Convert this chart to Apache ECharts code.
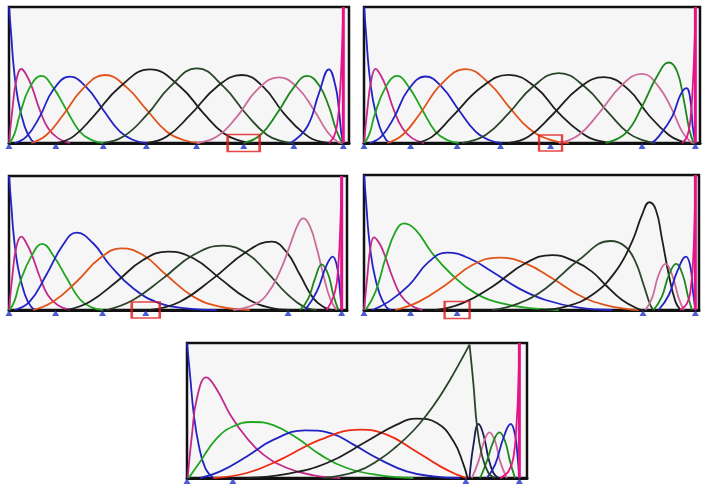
<!DOCTYPE html>
<html>
<head>
<meta charset="utf-8">
<script src="https://cdn.jsdelivr.net/npm/echarts@6/dist/echarts.min.js"></script>
<style>html,body{margin:0;padding:0;background:#fff;}#c{width:704px;height:485px;}</style>
</head>
<body>
<div id="c"></div>
<script>
// ---------- Data (x: normalised parameter 0..1, y: basis value 0..1) ----------
const P1_KNOTS = [0, 0.14, 0.282, 0.411, 0.561, 0.702, 0.852, 1];
const P1_REMOVED = [0.702];
const P1_CURVES = [
  [[0,1],[0.007,0.782],[0.014,0.561],[0.027,0.316],[0.047,0.12],[0.067,0.022],[0.082,0]],
  [[0,0],[0.01,0.243],[0.022,0.463],[0.037,0.544],[0.052,0.5],[0.069,0.409],[0.092,0.243],[0.117,0.108],[0.147,0.034],[0.182,0]],
  [[0.002,0],[0.017,0.071],[0.032,0.206],[0.062,0.409],[0.097,0.493],[0.132,0.409],[0.172,0.243],[0.212,0.083],[0.247,0.022],[0.282,0]],
  [[0.017,0],[0.052,0.047],[0.092,0.194],[0.132,0.39],[0.182,0.488],[0.232,0.409],[0.282,0.243],[0.332,0.083],[0.372,0.022],[0.412,0]],
  [[0.067,0],[0.112,0.059],[0.162,0.206],[0.222,0.402],[0.287,0.5],[0.352,0.409],[0.412,0.243],[0.472,0.083],[0.522,0.022],[0.572,0]],
  [[0.142,0],[0.192,0.047],[0.252,0.194],[0.332,0.414],[0.422,0.542],[0.512,0.414],[0.582,0.218],[0.642,0.071],[0.692,0.015],[0.732,0]],
  [[0.282,0],[0.342,0.047],[0.412,0.206],[0.482,0.414],[0.562,0.549],[0.642,0.414],[0.712,0.206],[0.772,0.059],[0.822,0.01],[0.852,0]],
  [[0.412,0],[0.472,0.047],[0.542,0.206],[0.622,0.414],[0.697,0.5],[0.762,0.409],[0.822,0.218],[0.882,0.071],[0.932,0.01],[0.972,0]],
  [[0.562,0],[0.622,0.047],[0.682,0.194],[0.742,0.39],[0.807,0.483],[0.862,0.409],[0.912,0.243],[0.952,0.083],[0.982,0.01],[0.997,0]],
  [[0.702,0],[0.752,0.059],[0.802,0.218],[0.852,0.409],[0.892,0.493],[0.927,0.426],[0.957,0.267],[0.977,0.108],[0.992,0.022],[1,0]],
  [[0.842,0],[0.892,0.12],[0.927,0.365],[0.957,0.542],[0.977,0.414],[0.987,0.243],[0.994,0.071],[1,0]],
  [[0.957,0],[0.972,0.047],[0.982,0.145],[0.99,0.365],[0.996,0.684],[1,1]]
];

const P2_KNOTS = [0, 0.1405, 0.281, 0.412, 0.563, 0.839, 1];
const P2_REMOVED = [0.563];
const P2_CURVES = [
  [[0,1],[0.007,0.78],[0.014,0.56],[0.027,0.316],[0.047,0.12],[0.067,0.022],[0.082,0]],
  [[0,0],[0.01,0.243],[0.022,0.463],[0.035,0.545],[0.05,0.5],[0.067,0.409],[0.09,0.243],[0.116,0.108],[0.146,0.034],[0.181,0]],
  [[0.002,0],[0.017,0.071],[0.032,0.206],[0.065,0.409],[0.1,0.494],[0.136,0.409],[0.176,0.243],[0.216,0.083],[0.251,0.022],[0.286,0]],
  [[0.017,0],[0.052,0.047],[0.092,0.194],[0.133,0.39],[0.186,0.489],[0.236,0.409],[0.286,0.243],[0.337,0.083],[0.377,0.022],[0.417,0]],
  [[0.07,0],[0.116,0.059],[0.166,0.206],[0.236,0.44],[0.307,0.543],[0.377,0.44],[0.437,0.268],[0.497,0.108],[0.558,0.027],[0.618,0]],
  [[0.156,0],[0.206,0.047],[0.266,0.194],[0.357,0.415],[0.437,0.501],[0.518,0.41],[0.588,0.219],[0.658,0.071],[0.709,0.015],[0.759,0]],
  [[0.296,0],[0.367,0.059],[0.437,0.219],[0.508,0.41],[0.588,0.514],[0.668,0.41],[0.739,0.219],[0.799,0.071],[0.849,0.015],[0.879,0]],
  [[0.437,0],[0.497,0.047],[0.568,0.206],[0.648,0.403],[0.724,0.484],[0.799,0.391],[0.859,0.206],[0.92,0.059],[0.96,0.01],[0.985,0]],
  [[0.588,0],[0.648,0.059],[0.709,0.219],[0.779,0.428],[0.839,0.509],[0.889,0.415],[0.93,0.243],[0.96,0.084],[0.985,0.01],[0.998,0]],
  [[0.729,0],[0.789,0.071],[0.839,0.268],[0.884,0.489],[0.92,0.592],[0.945,0.526],[0.965,0.317],[0.982,0.096],[0.995,0]],
  [[0.869,0],[0.889,0.047],[0.93,0.194],[0.955,0.354],[0.973,0.403],[0.985,0.317],[0.992,0.12],[1,0]],
  [[0.96,0],[0.975,0.047],[0.985,0.17],[0.992,0.415],[0.998,0.759],[1,1]]
];

const P3_KNOTS = [0, 0.14, 0.281, 0.411, 0.839, 1];
const P3_REMOVED = [0.411];
const P3_CURVES = [
  [[0,1],[0.007,0.78],[0.014,0.56],[0.027,0.316],[0.047,0.12],[0.067,0.022],[0.082,0]],
  [[0,0],[0.01,0.25],[0.022,0.47],[0.037,0.547],[0.052,0.5],[0.069,0.41],[0.092,0.25],[0.117,0.11],[0.147,0.035],[0.183,0]],
  [[0.002,0],[0.017,0.07],[0.032,0.2],[0.067,0.4],[0.1,0.493],[0.135,0.4],[0.173,0.24],[0.213,0.08],[0.248,0.02],[0.283,0]],
  [[0.017,0],[0.062,0.062],[0.112,0.261],[0.162,0.485],[0.203,0.577],[0.253,0.498],[0.303,0.336],[0.373,0.162],[0.453,0.05],[0.534,0.012],[0.624,0]],
  [[0.072,0],[0.132,0.062],[0.203,0.211],[0.273,0.386],[0.338,0.46],[0.403,0.41],[0.473,0.261],[0.554,0.1],[0.634,0.025],[0.724,0]],
  [[0.173,0],[0.243,0.062],[0.323,0.211],[0.403,0.373],[0.478,0.435],[0.554,0.386],[0.634,0.236],[0.714,0.087],[0.784,0.017],[0.845,0]],
  [[0.293,0],[0.373,0.075],[0.463,0.236],[0.554,0.41],[0.644,0.48],[0.714,0.423],[0.774,0.286],[0.834,0.124],[0.885,0.025],[0.925,0]],
  [[0.423,0],[0.514,0.062],[0.614,0.236],[0.714,0.435],[0.79,0.51],[0.835,0.43],[0.875,0.261],[0.915,0.087],[0.95,0.017],[0.97,0]],
  [[0.674,0],[0.734,0.037],[0.774,0.112],[0.814,0.286],[0.845,0.485],[0.87,0.647],[0.885,0.684],[0.905,0.622],[0.925,0.46],[0.945,0.261],[0.965,0.087],[0.985,0]],
  [[0.875,0],[0.9,0.087],[0.92,0.236],[0.94,0.341],[0.96,0.261],[0.975,0.112],[0.99,0]],
  [[0.89,0],[0.925,0.137],[0.955,0.336],[0.973,0.398],[0.987,0.311],[0.995,0.137],[1,0]],
  [[0.955,0],[0.98,0.137],[0.99,0.336],[0.997,0.709],[1,1]]
];

const P4_KNOTS = [0, 0.1405, 0.281, 0.842, 1];
const P4_REMOVED = [0.281];
const P4_CURVES = [
  [[0,1],[0.007,0.78],[0.014,0.56],[0.027,0.316],[0.047,0.12],[0.067,0.022],[0.082,0]],
  [[0,0],[0.01,0.25],[0.02,0.47],[0.03,0.538],[0.045,0.5],[0.062,0.41],[0.085,0.25],[0.111,0.11],[0.141,0.035],[0.176,0]],
  [[0.005,0],[0.035,0.136],[0.065,0.383],[0.095,0.58],[0.121,0.642],[0.156,0.593],[0.206,0.42],[0.266,0.259],[0.337,0.123],[0.417,0.049],[0.508,0.012],[0.588,0]],
  [[0.025,0],[0.075,0.062],[0.136,0.185],[0.196,0.358],[0.251,0.425],[0.317,0.383],[0.387,0.284],[0.467,0.16],[0.548,0.074],[0.648,0.017],[0.749,0]],
  [[0.095,0],[0.166,0.062],[0.246,0.185],[0.327,0.333],[0.407,0.388],[0.487,0.346],[0.568,0.235],[0.648,0.111],[0.729,0.037],[0.829,0]],
  [[0.216,0],[0.296,0.049],[0.387,0.173],[0.487,0.346],[0.568,0.407],[0.638,0.358],[0.688,0.284],[0.729,0.185],[0.779,0.074],[0.829,0.007],[0.844,0]],
  [[0.387,0],[0.467,0.049],[0.548,0.16],[0.648,0.37],[0.744,0.511],[0.789,0.469],[0.819,0.358],[0.844,0.185],[0.864,0.037],[0.874,0]],
  [[0.528,0],[0.608,0.025],[0.688,0.111],[0.759,0.284],[0.809,0.506],[0.839,0.704],[0.861,0.798],[0.881,0.741],[0.899,0.531],[0.92,0.259],[0.94,0.062],[0.955,0]],
  [[0.849,0],[0.869,0.086],[0.889,0.259],[0.91,0.341],[0.93,0.259],[0.95,0.086],[0.965,0]],
  [[0.874,0],[0.899,0.099],[0.92,0.259],[0.942,0.341],[0.962,0.259],[0.978,0.099],[0.99,0]],
  [[0.889,0],[0.92,0.111],[0.945,0.284],[0.972,0.395],[0.985,0.321],[0.993,0.136],[1,0]],
  [[0.955,0],[0.975,0.049],[0.985,0.136],[0.993,0.358],[0.998,0.704],[1,1]]
];

const P5_KNOTS = [0, 0.138, 0.839, 1];
const P5_REMOVED = [];
const P5_CURVES = [
  [[0,1],[0.01,0.741],[0.02,0.481],[0.035,0.247],[0.055,0.074],[0.08,0]],
  [[0.002,0],[0.015,0.321],[0.03,0.593],[0.058,0.746],[0.09,0.654],[0.13,0.469],[0.18,0.296],[0.23,0.173],[0.301,0.074],[0.381,0.02],[0.461,0]],
  [[0.005,0],[0.04,0.123],[0.09,0.296],[0.14,0.383],[0.195,0.415],[0.261,0.39],[0.331,0.296],[0.401,0.173],[0.481,0.074],[0.581,0.02],[0.681,0]],
  [[0.04,0],[0.1,0.049],[0.18,0.16],[0.261,0.284],[0.356,0.353],[0.431,0.333],[0.501,0.247],[0.581,0.136],[0.661,0.049],[0.741,0.012],[0.822,0]],
  [[0.08,0],[0.18,0.037],[0.281,0.136],[0.401,0.284],[0.521,0.358],[0.601,0.321],[0.681,0.21],[0.762,0.086],[0.812,0.025],[0.842,0]],
  [[0.18,0],[0.301,0.03],[0.421,0.111],[0.541,0.272],[0.631,0.395],[0.691,0.44],[0.752,0.407],[0.802,0.272],[0.832,0.099],[0.844,0]],
  [[0.411,0],[0.511,0.049],[0.581,0.14],[0.631,0.235],[0.681,0.35],[0.722,0.47],[0.762,0.61],[0.792,0.73],[0.822,0.86],[0.85,0.988]],
  [[0.85,0],[0.862,0.247],[0.877,0.4],[0.892,0.321],[0.907,0.148],[0.922,0.037],[0.937,0]],
  [[0.857,0],[0.877,0.123],[0.894,0.272],[0.91,0.338],[0.927,0.272],[0.942,0.123],[0.962,0]],
  [[0.882,0],[0.902,0.123],[0.922,0.272],[0.94,0.338],[0.957,0.272],[0.972,0.123],[0.987,0]],
  [[0.902,0],[0.927,0.099],[0.952,0.296],[0.974,0.4],[0.987,0.321],[0.995,0.148],[1,0]],
  [[0.942,0],[0.967,0.049],[0.982,0.148],[0.992,0.42],[0.997,0.691],[1,1]]
];
// falling side of the cusp-shaped dark-green function in panel 5
const P5_CUSP_FALL = [[0.85,0.988],[0.862,0.691],[0.872,0.395],[0.887,0.173],[0.907,0.037],[0.927,0]];

// ---------- Styling ----------
const C = {
  blue:'#2222c4', mag:'#c22a8a', green:'#20a520', orange:'#e0541a', black:'#1e1e1e',
  dgreen:'#2b452b', pink:'#cc6c9a', green2:'#1d861d', magB:'#e6148a', red:'#ee2a10', navy:'#1a1a55'
};
const COLS_STD = [C.blue,C.mag,C.green,C.blue,C.orange,C.black,C.dgreen,C.black,C.pink,C.green2,C.blue,C.magB];
const COLS_P5  = [C.blue,C.mag,C.green,C.blue,C.red,C.black,C.dgreen,C.navy,C.pink,C.green2,C.blue,C.magB];

const panels = [
  {grid:{left:9, top:7, width:340, height:136}, xmax:1.017, curves:P1_CURVES, knots:P1_KNOTS, removed:P1_REMOVED, box:[32,17], cols:COLS_STD},
  {grid:{left:364, top:7, width:336, height:136}, xmax:1.014, curves:P2_CURVES, knots:P2_KNOTS, removed:P2_REMOVED, box:[23,16], cols:COLS_STD},
  {grid:{left:9, top:176, width:338, height:134}, xmax:1.016, curves:P3_CURVES, knots:P3_KNOTS, removed:P3_REMOVED, box:[28,16], cols:COLS_STD},
  {grid:{left:364, top:175, width:335, height:135}, xmax:1.011, curves:P4_CURVES, knots:P4_KNOTS, removed:P4_REMOVED, box:[25,17], cols:COLS_STD},
  {grid:{left:187, top:343, width:340, height:135}, xmax:1.023, curves:P5_CURVES, knots:P5_KNOTS, removed:P5_REMOVED, box:[25,17], cols:COLS_P5, extra:[{data:P5_CUSP_FALL, color:C.dgreen}]}
];

const grids = [], xAxes = [], yAxes = [], series = [];
panels.forEach((p, i) => {
  grids.push(Object.assign({show:true, backgroundColor:'#f6f6f6', borderColor:'#111', borderWidth:2.5}, p.grid));
  xAxes.push({gridIndex:i, type:'value', min:0, max:p.xmax, axisLine:{show:true, lineStyle:{color:'#111', width:3}},
    axisTick:{show:false}, axisLabel:{show:false}, splitLine:{show:false}});
  yAxes.push({gridIndex:i, type:'value', min:0, max:1, show:false, splitLine:{show:false}});
  const lineOf = (data, color, w, z) => ({type:'line', xAxisIndex:i, yAxisIndex:i, data:data, smooth:0.45,
    symbol:'none', silent:true, lineStyle:{color:color, width:w}, z:z||2});
  p.curves.forEach((c, j) => series.push(lineOf(c, p.cols[j], 1.8, j === 11 ? 4 : 2)));
  (p.extra || []).forEach(e => series.push(lineOf(e.data, e.color, 1.8)));
  // thick vertical bar at right end (end value = 1)
  series.push(Object.assign(lineOf([[1,0],[1,1]], C.magB, 3, 5), {smooth:false}));
  series.push({type:'scatter', xAxisIndex:i, yAxisIndex:i, data:p.knots.map(k => [k,0]), symbol:'triangle',
    symbolSize:[7,6], symbolOffset:[0,3], itemStyle:{color:'#1f35c8'}, clip:false, silent:true, z:6});
  if (p.removed.length) {
    series.push({type:'scatter', xAxisIndex:i, yAxisIndex:i, data:p.removed.map(k => [k,0]), symbol:'rect',
      symbolSize:p.box, itemStyle:{color:'rgba(0,0,0,0)', borderColor:'#e01818', borderWidth:2}, clip:false, silent:true, z:7});
  }
});

const chart = echarts.init(document.getElementById('c'), null, {renderer:'canvas'});
chart.setOption({animation:false, backgroundColor:'#ffffff', grid:grids, xAxis:xAxes, yAxis:yAxes, series:series});
</script>
</body>
</html>
